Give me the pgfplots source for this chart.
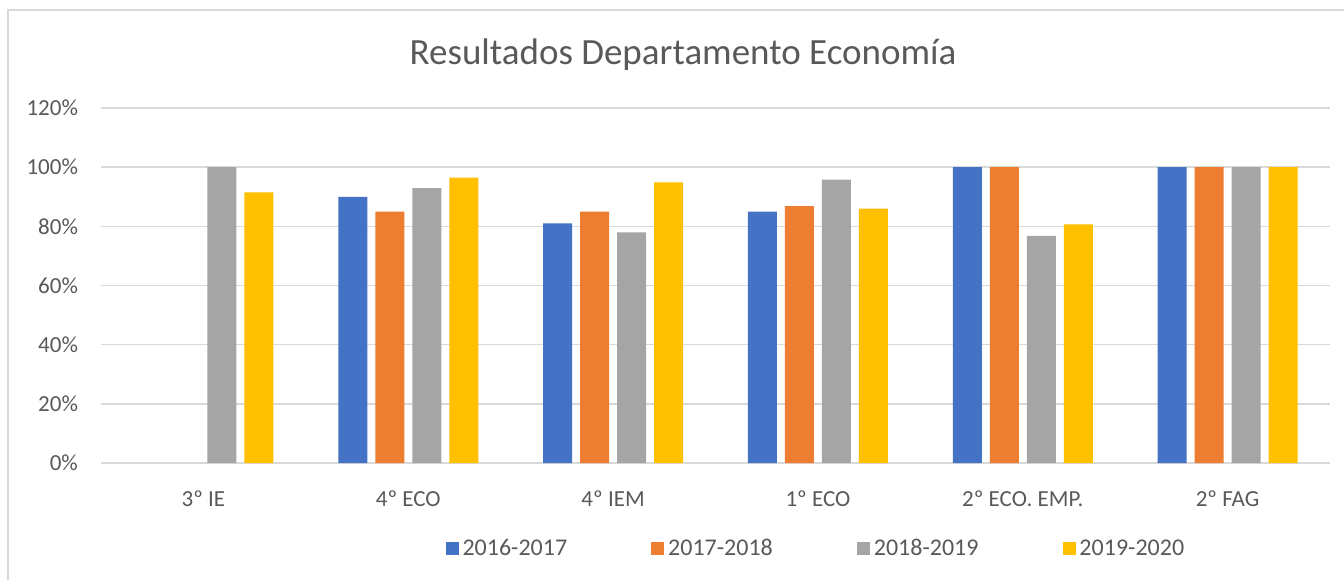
\documentclass[border=0pt]{standalone}
\usepackage{pgfplots}
\pgfplotsset{compat=1.18}
\usepackage{fontspec}
\setmainfont{Carlito}
\definecolor{cblue}{HTML}{4472C4}
\definecolor{corange}{HTML}{ED7D31}
\definecolor{cgray}{HTML}{A5A5A5}
\definecolor{cyellow}{HTML}{FFC000}
\definecolor{grid}{HTML}{D9D9D9}
\definecolor{txt}{HTML}{595959}
\begin{document}
\begin{tikzpicture}[x=1pt,y=1pt]
\path[use as bounding box] (0,0) rectangle (672,290);
\draw[grid,line width=0.8pt] (4,0) -- (4,285) -- (672,285);
\node[txt,font=\fontsize{18.5}{22}\selectfont] at (341.5,262.5) {Resultados Departamento Economía};
\begin{axis}[
  at={(50.5pt,58.5pt)}, anchor=south west,
  scale only axis, width=614.5pt, height=177.5pt,
  ybar=4pt, bar width=14.5pt,
  xmin=-0.5, xmax=5.5, ymin=0, ymax=120,
  xtick={0,1,2,3,4,5},
  xticklabels={3º IE,4º ECO,4º IEM,1º ECO,2º ECO. EMP.,2º FAG},
  ytick={0,20,40,60,80,100,120},
  yticklabels={0\%,20\%,40\%,60\%,80\%,100\%,120\%},
  axis line style={draw=none},
  xtick style={draw=none}, ytick style={draw=none},
  xmajorgrids=false, ymajorgrids=true,
  y grid style={grid,line width=0.8pt},
  tick label style={txt,font=\fontsize{11.5}{14}\selectfont},
  yticklabel style={xshift=-8pt},
  xticklabel style={yshift=-6pt},
  legend style={draw=none, fill=none, at={(0.28,-0.242)}, anchor=west,
    font=\fontsize{12}{14}\selectfont, text=txt, legend columns=4,
    /tikz/every even column/.append style={column sep=40pt}, inner sep=0pt},
  legend image code/.code={\fill[#1] (0pt,-3.25pt) rectangle (6.5pt,3.25pt);},
  clip=false,
]
\draw[grid,line width=0.8pt] (rel axis cs:0,0) -- (rel axis cs:1,0);
\addplot[draw=none,fill=cblue] coordinates {(1,90) (2,81) (3,85) (4,100) (5,100)};
\addplot[draw=none,fill=corange] coordinates {(1,85) (2,85) (3,86.8) (4,100) (5,100)};
\addplot[draw=none,fill=cgray] coordinates {(0,100) (1,92.9) (2,78) (3,95.8) (4,76.8) (5,100)};
\addplot[draw=none,fill=cyellow] coordinates {(0,91.5) (1,96.5) (2,94.9) (3,86) (4,80.7) (5,100)};
\legend{2016-2017,2017-2018,2018-2019,2019-2020}
\end{axis}
\end{tikzpicture}
\end{document}
